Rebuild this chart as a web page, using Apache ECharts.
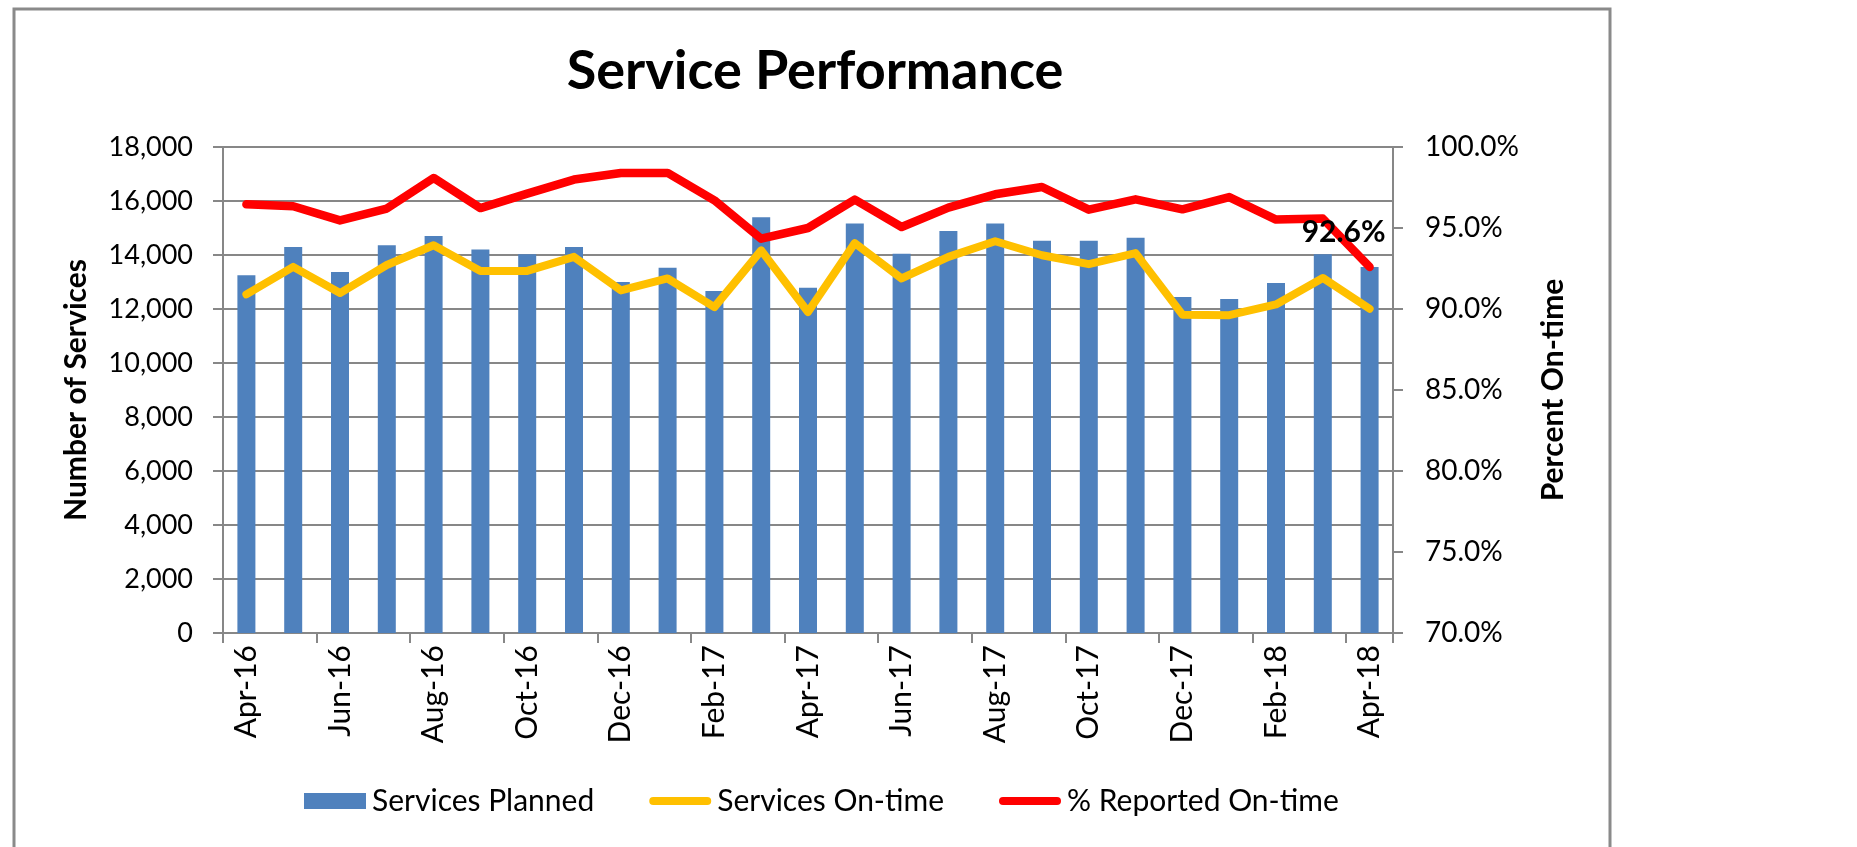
<!DOCTYPE html>
<html>
<head>
<meta charset="utf-8">
<script src="https://cdn.jsdelivr.net/npm/echarts@6/dist/echarts.min.js"></script>
<style>
  html, body { margin: 0; padding: 0; background: #fff; }
  #chart { width: 1857px; height: 847px; }
</style>
</head>
<body>
<div id="chart"></div>
<script>
// ---- data ----
const months = ['Apr-16','May-16','Jun-16','Jul-16','Aug-16','Sep-16','Oct-16','Nov-16','Dec-16',
  'Jan-17','Feb-17','Mar-17','Apr-17','May-17','Jun-17','Jul-17','Aug-17','Sep-17','Oct-17','Nov-17','Dec-17',
  'Jan-18','Feb-18','Mar-18','Apr-18'];
const servicesPlanned = [13250, 14300, 13370, 14360, 14700, 14200, 14030, 14300, 13000,
  13530, 12670, 15400, 12790, 15170, 14050, 14890, 15170, 14530, 14530, 14640, 12440,
  12370, 12960, 14030, 13560];
const servicesOnTime = [12540, 13560, 12590, 13630, 14360, 13410, 13410, 13930, 12690,
  13130, 12070, 14170, 11890, 14440, 13130, 13930, 14510, 13990, 13660, 14070, 11790,
  11770, 12170, 13150, 12010];
const pctReported = [96.46, 96.34, 95.47, 96.20, 98.09, 96.23, 97.12, 97.99, 98.40,
  98.40, 96.71, 94.34, 95.00, 96.75, 95.06, 96.26, 97.08, 97.53, 96.13, 96.77, 96.15,
  96.91, 95.52, 95.58, 92.60];
const leftTicks = { min: 0, max: 18000, interval: 2000 };
const rightTicks = { min: 70, max: 100, interval: 5 };

const FONT = 'Lato';
const GRAY = '#878787';
const LINE_ICON = 'path://M4,0 L58,0 A4,4 0 0 1 58,8 L4,8 A4,4 0 0 1 4,0 Z';

const chart = echarts.init(document.getElementById('chart'), null, { renderer: 'canvas' });

const lastIdx = pctReported.length - 1;
const redData = pctReported.map((v, i) => i === lastIdx ? {
  value: v,
  symbolSize: 1,
  label: {
    show: true,
    position: 'top',
    offset: [-26, -14],
    formatter: (p) => p.value.toFixed(1) + '%',
    fontFamily: FONT, fontWeight: 'bold', fontSize: 30, color: '#000'
  }
} : { value: v, symbolSize: 0 });

const option = {
  animation: false,
  backgroundColor: '#fff',
  graphic: [{
    type: 'rect',
    silent: true,
    shape: { x: 14, y: 9, width: 1596, height: 860 },
    style: { fill: 'none', stroke: '#8a8a8a', lineWidth: 3 },
    z: 100
  }],
  title: {
    text: 'Service Performance',
    left: 810,
    top: 40,
    textAlign: 'center',
    textStyle: { fontFamily: FONT, fontWeight: 'bold', fontSize: 54, color: '#000' }
  },
  legend: {
    left: 299,
    top: 781,
    itemWidth: 62,
    itemHeight: 16,
    itemGap: 55,
    textStyle: { fontFamily: FONT, fontSize: 30, color: '#000', padding: [0, 0, 0, 1] },
    data: [
      { name: 'Services Planned', icon: 'rect' },
      { name: 'Services On-time', icon: LINE_ICON },
      { name: '% Reported On-time', icon: LINE_ICON }
    ]
  },
  grid: { left: 223, right: 464, top: 147, bottom: 214, containLabel: false },
  xAxis: {
    type: 'category',
    data: months,
    boundaryGap: true,
    axisLine: { show: true, lineStyle: { color: GRAY, width: 2 } },
    axisTick: { show: true, interval: 1, length: 10, lineStyle: { color: GRAY, width: 2 } },
    axisLabel: { interval: 1, rotate: 90, margin: 12, fontFamily: FONT, fontSize: 30, color: '#000' },
    splitLine: { show: false }
  },
  yAxis: [{
    type: 'value',
    min: leftTicks.min, max: leftTicks.max, interval: leftTicks.interval,
    name: 'Number of Services',
    nameLocation: 'middle',
    nameGap: 132,
    nameTextStyle: { fontFamily: FONT, fontWeight: 'bold', fontSize: 30, color: '#000' },
    axisLine: { show: true, lineStyle: { color: GRAY, width: 2 } },
    axisTick: { show: true, length: 10, lineStyle: { color: GRAY, width: 2 } },
    axisLabel: {
      margin: 30, fontFamily: FONT, fontSize: 27, color: '#000',
      formatter: (v) => v.toLocaleString('en-US')
    },
    splitLine: { show: true, lineStyle: { color: GRAY, width: 2 } }
  }, {
    type: 'value',
    min: rightTicks.min, max: rightTicks.max, interval: rightTicks.interval,
    name: 'Percent On-time',
    nameLocation: 'middle',
    nameGap: 145,
    nameRotate: 90,
    nameTextStyle: { fontFamily: FONT, fontWeight: 'bold', fontSize: 30, color: '#000' },
    axisLine: { show: true, lineStyle: { color: GRAY, width: 2 } },
    axisTick: { show: true, length: 10, lineStyle: { color: GRAY, width: 2 } },
    axisLabel: {
      margin: 32, fontFamily: FONT, fontSize: 28, color: '#000',
      formatter: (v) => v.toFixed(1) + '%'
    },
    splitLine: { show: false }
  }],
  series: [{
    name: 'Services Planned',
    type: 'bar',
    yAxisIndex: 0,
    barWidth: 18,
    itemStyle: { color: '#4F81BD' },
    data: servicesPlanned,
    z: 2
  }, {
    name: 'Services On-time',
    type: 'line',
    yAxisIndex: 0,
    symbol: 'none',
    lineStyle: { color: '#FFC000', width: 8, cap: 'round', join: 'round' },
    itemStyle: { color: '#FFC000' },
    data: servicesOnTime,
    z: 3
  }, {
    name: '% Reported On-time',
    type: 'line',
    yAxisIndex: 1,
    symbol: 'circle',
    showSymbol: true,
    lineStyle: { color: '#FF0000', width: 8.5, cap: 'round', join: 'round' },
    itemStyle: { color: '#FF0000' },
    data: redData,
    z: 4
  }]
};

chart.setOption(option);
</script>
</body>
</html>
